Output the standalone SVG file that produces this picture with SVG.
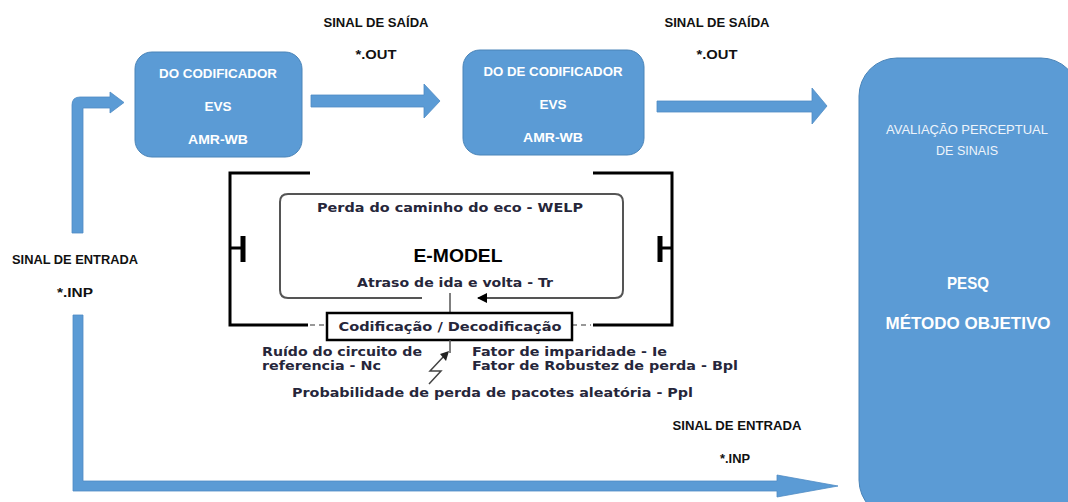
<svg xmlns="http://www.w3.org/2000/svg" width="1068" height="502" viewBox="0 0 1068 502">
<defs>
<style>
.box{fill:#5b9bd5;stroke:#4a84b8;stroke-width:1}
.arrow{fill:#5b9bd5;stroke:#4f8cc4;stroke-width:0.8}
.lbl{font-family:"Liberation Sans",Arial,sans-serif;font-weight:bold;font-size:12.5px;fill:#111;text-anchor:middle}
.wt{font-family:"Liberation Sans",Arial,sans-serif;font-weight:bold;font-size:13.5px;fill:#fff;text-anchor:middle}
.wr{font-family:"Liberation Sans",Arial,sans-serif;font-size:13px;fill:#eef4fb;text-anchor:middle}
.wb{font-family:"Liberation Sans",Arial,sans-serif;font-weight:bold;font-size:17px;fill:#fff;text-anchor:middle}
.em{font-family:"DejaVu Sans",Verdana,sans-serif;font-weight:bold;font-size:12px;fill:#26263a}
.brk{fill:none;stroke:#000;stroke-width:3}
.thin{fill:none;stroke:#555;stroke-width:2}
</style>
<marker id="ah" viewBox="0 0 10 10" refX="9" refY="5" markerWidth="5" markerHeight="5" orient="auto">
<path d="M0,0 L10,5 L0,10 Z" fill="#000"/>
</marker>
</defs>
<rect width="1068" height="502" fill="#fff"/>

<g id="connectors">
<path class="arrow" d="M72,233 L72,105 Q72,97 80,97 L110,97 L110,92 L124,102.5 L110,113 L110,108 L83,108 L83,233 Z"/>
<path class="arrow" d="M311,95 L424,95 L424,84 L440,101 L424,118 L424,107 L311,107 Z"/>
<path class="arrow" d="M657,101 L812,101 L812,88 L827,106 L812,124 L812,112 L657,112 Z"/>
<path class="arrow" d="M73,315 L83,315 L83,481 L777,481 L777,475 L838,486 L777,497 L777,491 L73,491 Z"/>
</g>

<g id="labels">
<text class="lbl" x="376" y="27" textLength="105" lengthAdjust="spacingAndGlyphs">SINAL DE SAÍDA</text>
<text class="lbl" x="376" y="59" textLength="41" lengthAdjust="spacingAndGlyphs">*.OUT</text>
<text class="lbl" x="717" y="27" textLength="105" lengthAdjust="spacingAndGlyphs">SINAL DE SAÍDA</text>
<text class="lbl" x="717" y="59" textLength="41" lengthAdjust="spacingAndGlyphs">*.OUT</text>
<text class="lbl" x="75" y="264" textLength="126" lengthAdjust="spacingAndGlyphs">SINAL DE ENTRADA</text>
<text class="lbl" x="75" y="297" textLength="36" lengthAdjust="spacingAndGlyphs">*.INP</text>
<text class="lbl" x="737" y="430" textLength="129" lengthAdjust="spacingAndGlyphs">SINAL DE ENTRADA</text>
<text class="lbl" x="735" y="463" textLength="30" lengthAdjust="spacingAndGlyphs">*.INP</text>
</g>

<g id="codificador">
<rect class="box" x="135" y="52" width="167" height="105" rx="17"/>
<text class="wt" x="218" y="78" textLength="118" lengthAdjust="spacingAndGlyphs">DO CODIFICADOR</text>
<text class="wt" x="218" y="111">EVS</text>
<text class="wt" x="218" y="144" textLength="60" lengthAdjust="spacingAndGlyphs">AMR-WB</text>
</g>

<g id="decodificador">
<rect class="box" x="463" y="50" width="181" height="105" rx="17"/>
<text class="wt" x="553" y="76" textLength="139" lengthAdjust="spacingAndGlyphs">DO DE CODIFICADOR</text>
<text class="wt" x="553" y="109">EVS</text>
<text class="wt" x="553" y="142" textLength="60" lengthAdjust="spacingAndGlyphs">AMR-WB</text>
</g>

<g id="pesq">
<rect class="box" x="859" y="58" width="220" height="460" rx="38"/>
<text class="wr" x="967" y="134" textLength="162" lengthAdjust="spacingAndGlyphs">AVALIAÇÃO PERCEPTUAL</text>
<text class="wr" x="967" y="155" textLength="62" lengthAdjust="spacingAndGlyphs">DE SINAIS</text>
<text class="wb" x="968" y="289" textLength="42" lengthAdjust="spacingAndGlyphs">PESQ</text>
<text class="wb" x="968" y="329" textLength="165" lengthAdjust="spacingAndGlyphs">MÉTODO OBJETIVO</text>
</g>

<g id="emodel">
<path class="brk" d="M310,173 L230,173 L230,325 L308,325"/>
<path class="brk" d="M593,173 L672,173 L672,325 L593,325"/>
<path d="M230,248 L243,248" stroke="#000" stroke-width="3"/>
<path d="M243,236 L243,262" stroke="#000" stroke-width="5"/>
<path d="M660,248 L672,248" stroke="#000" stroke-width="3"/>
<path d="M660,236 L660,262" stroke="#000" stroke-width="5"/>
<path d="M310,325 L327,325 M572,325 L591,325" stroke="#777" stroke-width="1.5" stroke-dasharray="5,4"/>
<path class="thin" d="M422,298 L288,298 Q280,298 280,290 L280,202 Q280,194 288,194 L615,194 Q623,194 623,202 L623,290 Q623,298 615,298 L478,298" marker-end="url(#ah)"/>
<path d="M450,293 L450,313" stroke="#555" stroke-width="1.5"/>
<text class="em" x="450" y="212" text-anchor="middle" textLength="266" lengthAdjust="spacingAndGlyphs">Perda do caminho do eco - WELP</text>
<text x="458" y="262" text-anchor="middle" font-family="Liberation Sans, Arial, sans-serif" font-weight="bold" font-size="19" fill="#000" textLength="89" lengthAdjust="spacingAndGlyphs">E-MODEL</text>
<text class="em" x="455" y="287" text-anchor="middle" textLength="196" lengthAdjust="spacingAndGlyphs">Atraso de ida e volta - Tr</text>
<rect x="327" y="313" width="245" height="27" fill="#fff" stroke="#000" stroke-width="2.5"/>
<text class="em" x="450" y="331" text-anchor="middle" textLength="223" lengthAdjust="spacingAndGlyphs">Codificação / Decodificação</text>
<path d="M450,340 L450,353" stroke="#555" stroke-width="1.5"/>
<path d="M429,384 L441,371 L430,371 L445,355" fill="none" stroke="#444" stroke-width="1.5"/>
<path d="M449,351 L440,354 L446,361 Z" fill="#222"/>
<text class="em" x="262" y="356" textLength="160" lengthAdjust="spacingAndGlyphs">Ruído do circuito de</text>
<text class="em" x="262" y="370" textLength="119" lengthAdjust="spacingAndGlyphs">referencia - Nc</text>
<text class="em" x="472" y="356" textLength="195" lengthAdjust="spacingAndGlyphs">Fator de imparidade - Ie</text>
<text class="em" x="472" y="370" textLength="266" lengthAdjust="spacingAndGlyphs">Fator de Robustez de perda - Bpl</text>
<text class="em" x="292" y="397" textLength="401" lengthAdjust="spacingAndGlyphs">Probabilidade de perda de pacotes aleatória - Ppl</text>
</g>
</svg>
